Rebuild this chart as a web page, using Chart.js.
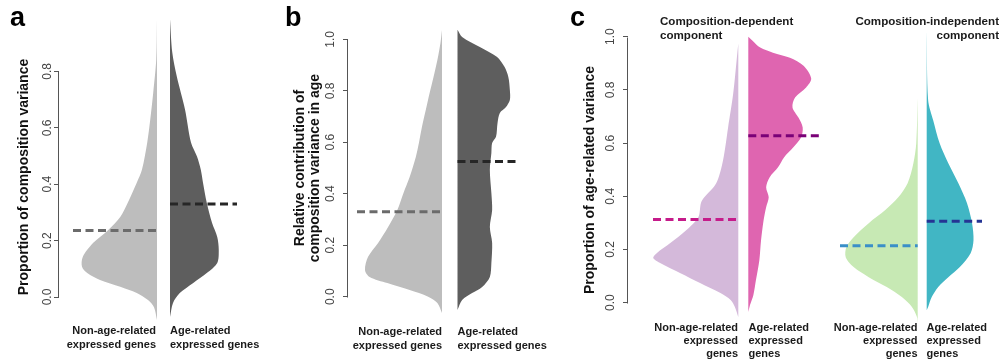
<!DOCTYPE html>
<html><head><meta charset="utf-8">
<script src="https://cdn.jsdelivr.net/npm/chart.js@4.4.1/dist/chart.umd.min.js"></script>
<style>
html,body{margin:0;padding:0;background:#fff;overflow:hidden}
#wrap{position:relative;width:1001px;height:360px;background:#fff}
canvas{position:absolute;top:0}
</style></head><body>
<div id="wrap">
<canvas id="pa" width="275" height="360" style="left:0px"></canvas>
<canvas id="pb" width="285" height="360" style="left:275px"></canvas>
<canvas id="pc" width="441" height="360" style="left:560px"></canvas>
</div>
<script>
// ---------------- DATA ----------------
const groupLabels = ['Non-age-related\nexpressed genes', 'Age-related\nexpressed genes'];
const groupLabelsC = ['Non-age-related\nexpressed\ngenes', 'Age-related\nexpressed\ngenes'];

// Panel a: proportion of composition variance
const aTicks = [0, 0.2, 0.4, 0.6, 0.8];
const aNonY = [0.985,0.843,0.725,0.629,0.548,0.452,0.405,0.334,0.284,0.238,0.192,0.142,0.107,0.085,0.060,0.036,0.014,-0.011,-0.036,-0.082];
const aNonD = [0,0.01,0.05,0.09,0.13,0.20,0.27,0.39,0.49,0.65,0.85,0.99,1.00,0.93,0.76,0.49,0.27,0.12,0.04,0];
const aAgeY = [0.985,0.868,0.783,0.665,0.548,0.498,0.452,0.405,0.334,0.263,0.213,0.167,0.121,0.085,0.050,0.014,-0.021,-0.071];
const aAgeD = [0,0.03,0.09,0.20,0.28,0.36,0.41,0.44,0.49,0.56,0.63,0.65,0.63,0.49,0.31,0.13,0.04,0];
const aMedians = [0.236, 0.330];

// Panel b: relative contribution of composition variance in age
const bTicks = [0, 0.2, 0.4, 0.6, 0.8, 1.0];
const bNonY = [1.036,0.986,0.920,0.854,0.792,0.726,0.660,0.597,0.543,0.465,0.403,0.337,0.271,0.209,0.155,0.104,0.077,0.053,0.026,0,-0.024,-0.063];
const bNonD = [0,0.02,0.06,0.11,0.16,0.21,0.26,0.30,0.34,0.42,0.50,0.58,0.70,0.83,0.96,1.00,0.94,0.71,0.42,0.18,0.06,0];
const bAgeY = [1.037,1.009,0.970,0.932,0.893,0.854,0.803,0.764,0.737,0.714,0.675,0.621,0.597,0.558,0.492,0.403,0.337,0.271,0.209,0.131,0.077,0.038,0.014,-0.013,-0.052];
const bAgeD = [0,0.06,0.29,0.51,0.61,0.66,0.68,0.68,0.63,0.55,0.52,0.50,0.45,0.44,0.42,0.44,0.45,0.42,0.45,0.44,0.42,0.32,0.19,0.06,0];
const bMedians = [0.330, 0.525];

// Panel c: proportion of age-related variance
const cTicks = [0, 0.2, 0.4, 0.6, 0.8, 1.0];
const cDepNonY = [0.974,0.910,0.786,0.659,0.535,0.449,0.396,0.374,0.321,0.273,0.224,0.186,0.168,0.149,0.111,0.074,0.036,0.010,-0.016,-0.054];
const cDepNonD = [0,0.02,0.06,0.12,0.18,0.26,0.40,0.44,0.47,0.61,0.80,0.96,1.00,0.92,0.68,0.45,0.21,0.09,0.04,0];
const cDepAgeY = [1.000,0.985,0.959,0.940,0.921,0.891,0.843,0.809,0.771,0.734,0.696,0.659,0.621,0.584,0.546,0.509,0.471,0.434,0.396,0.359,0.310,0.235,0.160,0.085,0.029,-0.009,-0.035];
const cDepAgeD = [0,0.05,0.14,0.29,0.49,0.65,0.74,0.68,0.55,0.52,0.59,0.64,0.62,0.53,0.42,0.35,0.25,0.21,0.24,0.21,0.18,0.15,0.13,0.09,0.06,0.02,0];
const cDepMedians = [0.313, 0.628];
const cIndNonY = [0.770,0.599,0.524,0.449,0.396,0.348,0.299,0.246,0.209,0.171,0.134,0.096,0.059,0.021,-0.016,-0.054,-0.076];
const cIndNonD = [0,0.02,0.06,0.14,0.27,0.45,0.68,0.89,0.99,1.00,0.89,0.68,0.43,0.22,0.08,0.01,0];
const cIndAgeY = [1.023,0.761,0.686,0.599,0.524,0.449,0.374,0.299,0.235,0.186,0.134,0.096,0.059,0.021,-0.016,-0.028];
const cIndAgeD = [0,0.02,0.09,0.18,0.30,0.44,0.56,0.63,0.65,0.61,0.46,0.30,0.16,0.07,0.02,0];
const cIndMedians = [0.214, 0.306];

// ---------------- HELPERS ----------------
const FONT = '"Liberation Sans", Arial, Helvetica, sans-serif';

function halfShape(ys, ds, edge, scale, side) {
  const pts = [{x: edge, y: ys[0]}];
  ys.forEach((y, i) => pts.push({x: edge + side * ds[i] * scale, y: y}));
  pts.push({x: edge, y: ys[ys.length - 1]});
  return pts;
}
function beanDataset(ys, ds, edge, scale, side, color) {
  return {data: halfShape(ys, ds, edge, scale, side), backgroundColor: color, borderColor: color,
    borderWidth: 0, fill: 'shape', tension: 0.3, pointRadius: 0, order: 2};
}
function medianDataset(v, x0, x1, color) {
  return {data: [{x: x0, y: v}, {x: x1, y: v}], borderColor: color, borderWidth: 3,
    borderDash: [8, 4.5], borderCapStyle: 'butt', fill: false, pointRadius: 0, order: 1};
}
function vtext(ctx, text, x, y, font, color) {
  ctx.save(); ctx.translate(x, y); ctx.rotate(-Math.PI / 2);
  ctx.font = font; ctx.fillStyle = color; ctx.textAlign = 'center'; ctx.textBaseline = 'middle';
  ctx.fillText(text, 0, 0); ctx.restore();
}
function htext(ctx, text, x, y, font, color, align) {
  ctx.save(); ctx.font = font; ctx.fillStyle = color; ctx.textAlign = align; ctx.textBaseline = 'middle';
  ctx.fillText(text, x, y); ctx.restore();
}
function groupText(ctx, t) {
  const size = t.size || 11;
  t.text.split('\n').forEach((s, i) => htext(ctx, s, t.x, t.y + i * t.lh, 'bold ' + size + 'px ' + FONT, '#1a1a1a', t.align));
}

function makePanel(id, cfg) {
  const decor = {
    id: 'decor_' + id,
    afterDraw(chart) {
      const ctx = chart.ctx, ys = chart.scales.y;
      const ax = Math.round(chart.chartArea.left) - 0.5;
      ctx.save();
      ctx.strokeStyle = '#555'; ctx.lineWidth = 1;
      ctx.beginPath();
      ctx.moveTo(ax, Math.round(ys.getPixelForValue(cfg.ticks[0])) + 0.5);
      ctx.lineTo(ax, Math.round(ys.getPixelForValue(cfg.ticks[cfg.ticks.length - 1])) + 0.5);
      ctx.stroke();
      ctx.restore();
      cfg.ticks.forEach(v => vtext(ctx, v.toFixed(1), cfg.tickX, ys.getPixelForValue(v), '12px ' + FONT, '#444'));
      cfg.titles.forEach(t => vtext(ctx, t.text, t.x, t.y, 'bold 14px ' + FONT, '#111'));
      htext(ctx, cfg.letter, 10, 19, 'bold 27px ' + FONT, '#000', 'left');
      cfg.texts.forEach(t => groupText(ctx, t));
    }
  };
  return new Chart(document.getElementById(id), {
    type: 'line',
    data: {datasets: cfg.datasets},
    options: {
      responsive: false, animation: false, events: [],
      layout: {padding: {left: 0, right: 0, top: cfg.padTop, bottom: cfg.padBottom}},
      plugins: {legend: {display: false}, tooltip: {enabled: false}, title: {display: false}},
      scales: {
        x: {type: 'linear', display: false, min: 0, max: cfg.xMax},
        y: {type: 'linear', position: 'left', min: cfg.yMin, max: cfg.yMax,
          afterBuildTicks: s => { s.ticks = cfg.ticks.map(v => ({value: v})); },
          afterFit: s => { s.width = cfg.axisW; },
          grid: {drawOnChartArea: false, drawTicks: true, tickLength: 5, color: '#555', lineWidth: 1},
          border: {display: false},
          ticks: {display: false}}
      }
    },
    plugins: [decor]
  });
}

// ---------------- PANEL A ----------------
makePanel('pa', {
  axisW: 59, xMax: 216, yMin: -0.1, yMax: 1.05, padTop: 0.9, padBottom: 34.8,
  ticks: aTicks, tickX: 47.5, letter: 'a',
  titles: [{text: 'Proportion of composition variance', x: 24, y: 177}],
  texts: [{text: groupLabels[0], x: 156, y: 331, lh: 14, align: 'right'},
          {text: groupLabels[1], x: 170, y: 331, lh: 14, align: 'left'}],
  datasets: [
    medianDataset(aMedians[0], 14, 98, '#6b6b6b'),
    medianDataset(aMedians[1], 111, 178, '#262626'),
    beanDataset(aNonY, aNonD, 98, 75, -1, '#bdbdbd'),
    beanDataset(aAgeY, aAgeD, 111, 75, 1, '#5e5e5e')
  ]
});

// ---------------- PANEL B ----------------
makePanel('pb', {
  axisW: 73, xMax: 212, yMin: -0.2, yMax: 1.15, padTop: 0.7, padBottom: 11.8,
  ticks: bTicks, tickX: 56, letter: 'b',
  titles: [{text: 'Relative contribution of', x: 25, y: 168},
           {text: 'composition variance in age', x: 40, y: 168}],
  texts: [{text: groupLabels[0], x: 167, y: 332, lh: 14, align: 'right'},
          {text: groupLabels[1], x: 182.5, y: 332, lh: 14, align: 'left'}],
  datasets: [
    medianDataset(bMedians[0], 9, 94, '#6b6b6b'),
    medianDataset(bMedians[1], 109.5, 172, '#262626'),
    beanDataset(bNonY, bNonD, 94, 77, -1, '#bdbdbd'),
    beanDataset(bAgeY, bAgeD, 109.5, 77, 1, '#5e5e5e')
  ]
});

// ---------------- PANEL C ----------------
makePanel('pc', {
  axisW: 68, xMax: 373, yMin: -0.15, yMax: 1.13, padTop: 2.1, padBottom: 17.4,
  ticks: cTicks, tickX: 51, letter: 'c',
  titles: [{text: 'Proportion of age-related variance', x: 30, y: 180}],
  texts: [{text: groupLabelsC[0], x: 178, y: 328, lh: 13, align: 'right'},
          {text: groupLabelsC[1], x: 188.5, y: 328, lh: 13, align: 'left'},
          {text: groupLabelsC[0], x: 357.5, y: 328, lh: 13, align: 'right'},
          {text: groupLabelsC[1], x: 366.5, y: 328, lh: 13, align: 'left'},
          {text: 'Composition-dependent\ncomponent', x: 100, y: 21.5, lh: 14, align: 'left', size: 11.6},
          {text: 'Composition-independent\ncomponent', x: 439, y: 21.5, lh: 14, align: 'right', size: 11.6}],
  datasets: [
    medianDataset(cDepMedians[0], 25, 110.3, '#c51b8a'),
    medianDataset(cDepMedians[1], 120.3, 194, '#7a0177'),
    medianDataset(cIndMedians[0], 212, 289.7, '#3a8fc8'),
    medianDataset(cIndMedians[1], 298.7, 354, '#253494'),
    beanDataset(cDepNonY, cDepNonD, 110.3, 85, -1, '#d4b9da'),
    beanDataset(cDepAgeY, cDepAgeD, 120.3, 85, 1, '#df65b0'),
    beanDataset(cIndNonY, cIndNonD, 289.7, 72, -1, '#c7e9b4'),
    beanDataset(cIndAgeY, cIndAgeD, 298.7, 72, 1, '#41b6c4')
  ]
});
</script>
</body></html>
